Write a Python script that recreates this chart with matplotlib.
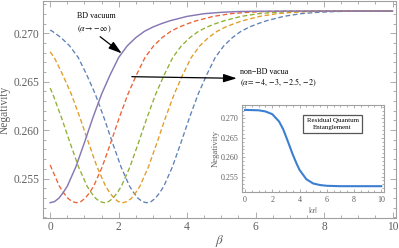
import matplotlib
matplotlib.use("Agg")
import matplotlib.pyplot as plt
from matplotlib.ticker import MultipleLocator

plt.rcParams['font.family'] = ['Liberation Serif', 'DejaVu Serif']
plt.rcParams['mathtext.fontset'] = 'stix'

# ---- data ----
# BD vacuum (alpha -> -inf)
beta_bd = [0, 0.125, 0.25, 0.375, 0.5, 0.75, 1.0, 1.25, 1.5, 1.75, 2.0, 2.25, 2.5, 2.75, 3.0, 3.25, 3.5, 4.0, 4.5, 5.0, 5.5, 6.0, 7.0, 10.0]
neg_bd = [0.25250, 0.25261, 0.25295, 0.25351, 0.25420, 0.25620, 0.25870, 0.26130, 0.26370, 0.26570, 0.26750, 0.26870, 0.26955, 0.27020, 0.27065, 0.27100, 0.27130, 0.27175, 0.27203, 0.27217, 0.27225, 0.27228, 0.27230, 0.27230]

# non-BD vacua
beta_red = [0, 0.27, 0.395, 0.52, 0.645, 0.77, 0.895, 1.02, 1.145, 1.27, 1.52, 1.77, 2.02, 2.27, 2.52, 2.77, 3.02, 3.27, 3.52, 3.77, 4.02, 4.27, 4.77, 5.27, 5.77, 6.27, 6.77, 7.77, 10.0]
neg_red = [0.25640, 0.25420, 0.25351, 0.25295, 0.25261, 0.25250, 0.25261, 0.25295, 0.25351, 0.25420, 0.25620, 0.25870, 0.26130, 0.26370, 0.26570, 0.26750, 0.26870, 0.26955, 0.27020, 0.27065, 0.27100, 0.27130, 0.27175, 0.27203, 0.27217, 0.27225, 0.27228, 0.27230, 0.27230]

beta_green = [0, 0.08, 0.33, 0.58, 0.83, 1.08, 1.205, 1.33, 1.455, 1.58, 1.705, 1.83, 1.955, 2.08, 2.33, 2.58, 2.83, 3.08, 3.33, 3.58, 3.83, 4.08, 4.33, 4.58, 4.83, 5.08, 5.58, 6.08, 6.58, 7.08, 7.58, 8.58, 10.0]
neg_green = [0.26434, 0.26370, 0.26130, 0.25870, 0.25620, 0.25420, 0.25351, 0.25295, 0.25261, 0.25250, 0.25261, 0.25295, 0.25351, 0.25420, 0.25620, 0.25870, 0.26130, 0.26370, 0.26570, 0.26750, 0.26870, 0.26955, 0.27020, 0.27065, 0.27100, 0.27130, 0.27175, 0.27203, 0.27217, 0.27225, 0.27228, 0.27230, 0.27230]

beta_orange = [0, 0.12, 0.37, 0.62, 0.87, 1.12, 1.37, 1.62, 1.745, 1.87, 1.995, 2.12, 2.245, 2.37, 2.495, 2.62, 2.87, 3.12, 3.37, 3.62, 3.87, 4.12, 4.37, 4.62, 4.87, 5.12, 5.37, 5.62, 6.12, 6.62, 7.12, 7.62, 8.12, 9.12, 10.0]
neg_orange = [0.26808, 0.26750, 0.26570, 0.26370, 0.26130, 0.25870, 0.25620, 0.25420, 0.25351, 0.25295, 0.25261, 0.25250, 0.25261, 0.25295, 0.25351, 0.25420, 0.25620, 0.25870, 0.26130, 0.26370, 0.26570, 0.26750, 0.26870, 0.26955, 0.27020, 0.27065, 0.27100, 0.27130, 0.27175, 0.27203, 0.27217, 0.27225, 0.27228, 0.27230, 0.27230]

beta_blue = [0, 0.07, 0.32, 0.57, 0.82, 1.07, 1.32, 1.57, 1.82, 2.07, 2.32, 2.445, 2.57, 2.695, 2.82, 2.945, 3.07, 3.195, 3.32, 3.57, 3.82, 4.07, 4.32, 4.57, 4.82, 5.07, 5.32, 5.57, 5.82, 6.07, 6.32, 6.82, 7.32, 7.82, 8.32, 8.82, 10.0]
neg_blue = [0.27033, 0.27020, 0.26955, 0.26870, 0.26750, 0.26570, 0.26370, 0.26130, 0.25870, 0.25620, 0.25420, 0.25351, 0.25295, 0.25261, 0.25250, 0.25261, 0.25295, 0.25351, 0.25420, 0.25620, 0.25870, 0.26130, 0.26370, 0.26570, 0.26750, 0.26870, 0.26955, 0.27020, 0.27065, 0.27100, 0.27130, 0.27175, 0.27203, 0.27217, 0.27225, 0.27228, 0.27230]

# inset: residual entanglement vs |alpha|
abs_alpha = [0, 1.0, 1.5, 2.0, 2.5, 2.8, 3.0, 3.3, 3.5, 3.8, 4.0, 4.5, 5.0, 5.5, 6.0, 7.0, 8.0, 10.0]
neg_inset = [0.2722, 0.2721, 0.2718, 0.2711, 0.2692, 0.2672, 0.2654, 0.2626, 0.2607, 0.2582, 0.2567, 0.2543, 0.2532, 0.2528, 0.2526, 0.2525, 0.2525, 0.2525]

xticks = [0, 2, 4, 6, 8, 10]
yticks = [0.255, 0.260, 0.265, 0.270]
ytick_labels = ['0.255', '0.260', '0.265', '0.270']

C_BLUE = '#5E81B5'
C_ORANGE = '#E19C24'
C_GREEN = '#8FB032'
C_RED = '#EB6235'
C_PURPLE = '#8778B3'
C_INSET = '#3c7fd2'
FRAME = '#a0a0a0'
TXT = '#606060'

fig = plt.figure(figsize=(3.99, 2.48), dpi=100)
ax = fig.add_axes([0.1085, 0.119, 0.884, 0.877])

dash = (3.6, 2.0)
lw = 0.95
ax.plot(beta_blue, neg_blue, color=C_BLUE, lw=lw, dashes=dash)
ax.plot(beta_orange, neg_orange, color=C_ORANGE, lw=lw, dashes=dash)
ax.plot(beta_green, neg_green, color=C_GREEN, lw=lw, dashes=dash)
ax.plot(beta_red, neg_red, color=C_RED, lw=lw, dashes=dash)
ax.plot(beta_bd, neg_bd, color=C_PURPLE, lw=1.05)

ax.set_xlim(-0.2, 10.1)
ax.set_ylim(0.25087, 0.27334)


def style_axes(a, fs, major_len, minor_len):
    for s in a.spines.values():
        s.set_color(FRAME)
        s.set_linewidth(0.8)
    a.tick_params(which='both', direction='in', top=True, right=True,
                  color=FRAME, labelcolor=TXT, labelsize=fs, width=0.6)
    a.tick_params(which='major', length=major_len, pad=2.5)
    a.tick_params(which='minor', length=minor_len)


ax.set_xticks(xticks)
ax.set_yticks(yticks)
ax.set_yticklabels(ytick_labels)
ax.xaxis.set_minor_locator(MultipleLocator(0.5))
ax.yaxis.set_minor_locator(MultipleLocator(0.001))
style_axes(ax, 8.3, 4, 2.2)
ax.tick_params(axis='x', which='major', pad=1.5)
ax.set_xlabel(r'$\beta$', fontsize=9.5, color=TXT, labelpad=0)
ax.set_ylabel('Negativity', fontsize=8.3, color=TXT, labelpad=2)

# annotations
arrow_style = dict(arrowstyle='-|>,head_length=0.8,head_width=0.25', color='black',
                   lw=0.9, mutation_scale=10, shrinkA=0, shrinkB=0)
ax.text(0.77, 0.27179, 'BD vacuum', fontsize=5.8, ha='left', va='center', color='black')
ax.text(0.77, 0.27041, r'$(\alpha\!\rightarrow\!-\infty)$', fontsize=5.8, ha='left', va='center', color='black')
ax.annotate('', xy=(2.09, 0.26793), xytext=(1.46, 0.26965), arrowprops=arrow_style)
ax.text(5.55, 0.26603, 'non\u2212BD vacua', fontsize=5.8, ha='left', va='center', color='black')
ax.text(5.55, 0.26490, r'$(\alpha\!=\!-4,\!-3,\!-2.5,\!-2)$', fontsize=5.8, ha='left', va='center', color='black')
ax.annotate('', xy=(5.45, 0.26535), xytext=(2.385, 0.26552), arrowprops=arrow_style)

# inset
axi = fig.add_axes([0.6073, 0.2238, 0.3551, 0.3508])
axi.set_facecolor('white')
axi.plot(abs_alpha, neg_inset, color=C_INSET, lw=1.5)
axi.set_xlim(-0.2, 10.2)
axi.set_ylim(0.25087, 0.27334)
axi.set_xticks(xticks)
axi.set_yticks(yticks)
axi.set_yticklabels(ytick_labels)
axi.xaxis.set_minor_locator(MultipleLocator(0.5))
axi.yaxis.set_minor_locator(MultipleLocator(0.001))
style_axes(axi, 5.8, 2.5, 1.4)
axi.set_xlabel(r'$|\alpha|$', fontsize=6.3, color=TXT, labelpad=1)
axi.set_ylabel('Negativity', fontsize=6.3, color=TXT, labelpad=1)
axi.text(0.637, 0.787, 'Residual Quantum\nEntanglement', transform=axi.transAxes,
         fontsize=5.0, ha='center', va='center', color='black', linespacing=1.5,
         bbox=dict(boxstyle='square,pad=0.45', facecolor='white', edgecolor='#555555', lw=0.9))

fig.savefig('out.png', dpi=100)
